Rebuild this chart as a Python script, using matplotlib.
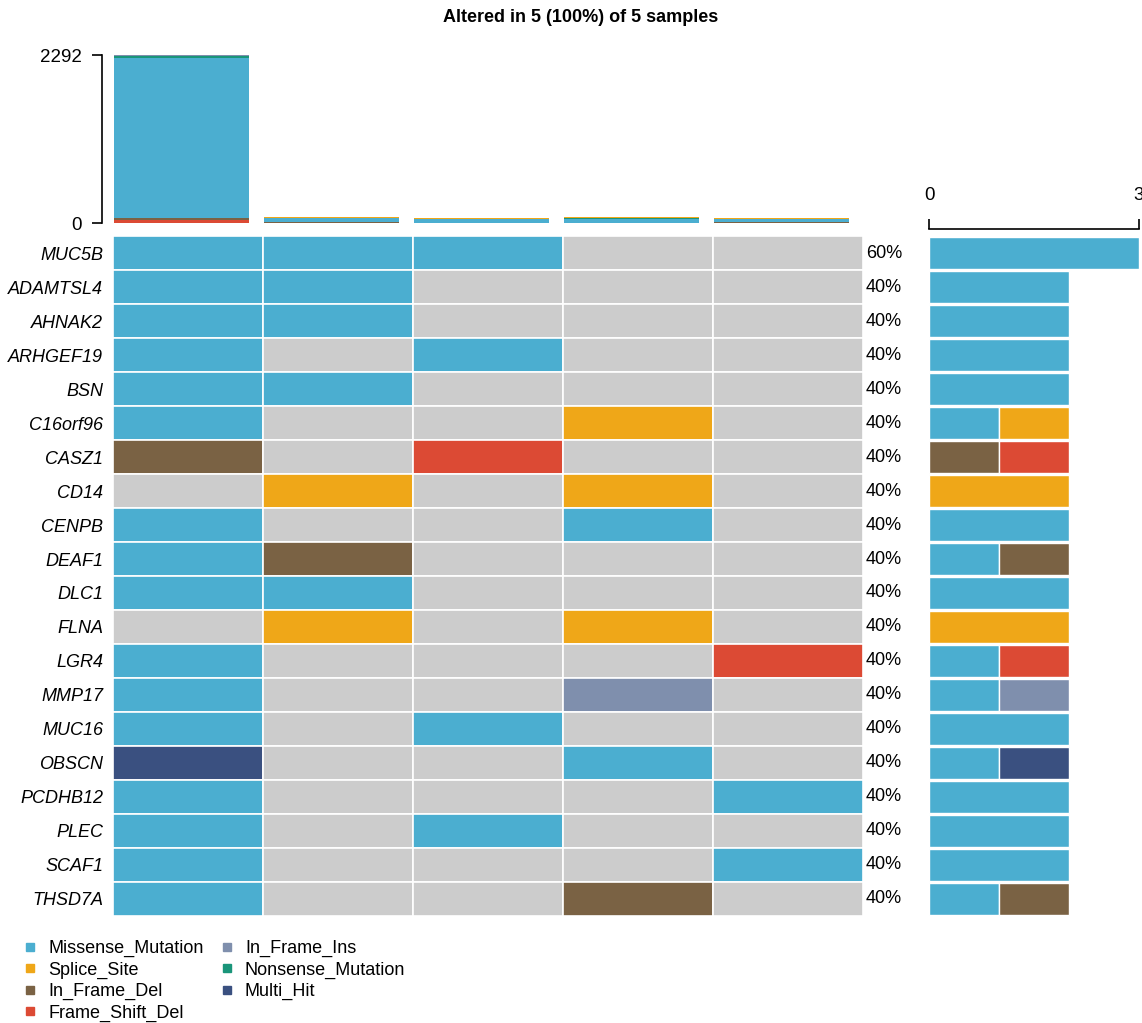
import numpy as np
import matplotlib.pyplot as plt
from matplotlib.lines import Line2D

plt.rcParams['font.family'] = ['Liberation Sans', 'DejaVu Sans']

genes = ['MUC5B', 'ADAMTSL4', 'AHNAK2', 'ARHGEF19', 'BSN', 'C16orf96', 'CASZ1',
         'CD14', 'CENPB', 'DEAF1', 'DLC1', 'FLNA', 'LGR4', 'MMP17', 'MUC16',
         'OBSCN', 'PCDHB12', 'PLEC', 'SCAF1', 'THSD7A']
samples = ['S1', 'S2', 'S3', 'S4', 'S5']

vc_types = ['Missense_Mutation', 'Splice_Site', 'In_Frame_Del', 'Frame_Shift_Del',
            'In_Frame_Ins', 'Nonsense_Mutation', 'Multi_Hit']
vc_colors = ['#4BAED0', '#EFA718', '#7A6244', '#DC4A34',
             '#7F8FAD', '#1A957A', '#3A5080']
empty_color = '#CCCCCC'

# M=Missense S=Splice D=In_Frame_Del F=Frame_Shift_Del I=In_Frame_Ins N=Nonsense H=Multi_Hit
codes = {'M': 0, 'S': 1, 'D': 2, 'F': 3, 'I': 4, 'N': 5, 'H': 6}
oncomatrix = [
    'MMM--',
    'MM---',
    'MM---',
    'M-M--',
    'MM---',
    'M--S-',
    'D-F--',
    '-S-S-',
    'M--M-',
    'MD---',
    'MM---',
    '-S-S-',
    'M---F',
    'M--I-',
    'M-M--',
    'H--M-',
    'M---M',
    'M-M--',
    'M---M',
    'M--D-',
]

# mutation burden per sample (bars on top), per variant class
tmb = {
    'Frame_Shift_Del':   [40, 4, 0, 6, 4],
    'In_Frame_Del':      [35, 12, 4, 0, 10],
    'Missense_Mutation': [2180, 46, 48, 54, 42],
    'Nonsense_Mutation': [20, 10, 6, 6, 0],
    'Splice_Site':       [12, 10, 4, 12, 6],
    'In_Frame_Ins':      [5, 0, 0, 4, 0],
    'Multi_Hit':         [0, 0, 0, 0, 0],
}
tmb_max = 2292
title = 'Altered in 5 (100%) of 5 samples'

fig = plt.figure(figsize=(11.42, 10.23), dpi=100)
fig.text(0.508, 1 - 18 / 1023, title, ha='center', va='center',
         fontsize=13, fontweight='bold')

# main grid
ax = fig.add_axes([0.0989, 0.1046, 0.6567, 0.6647])
n_g = len(genes)
n_s = len(samples)
for gi, row in enumerate(oncomatrix):
    for si, ch in enumerate(row):
        col = empty_color if ch == '-' else vc_colors[codes[ch]]
        ax.bar(si, 1, bottom=gi, width=1, align='edge', color=col,
               edgecolor='white', linewidth=1.2)
    n_alt = sum(c != '-' for c in row)
    ax.text(n_s + 0.02, gi + 0.5, f'{round(100 * n_alt / n_s)}%',
            ha='left', va='center', fontsize=13)
ax.set_xlim(0, n_s)
ax.set_ylim(n_g, 0)
ax.set_yticks(np.arange(n_g) + 0.5)
ax.set_yticklabels(genes, fontstyle='italic', fontsize=13)
ax.tick_params(axis='y', length=0, pad=7)
ax.set_xticks([])
for s in ax.spines.values():
    s.set_visible(False)

# top bars
axt = fig.add_axes([0.0989, 0.7820, 0.6567, 0.1640])
bottom = np.zeros(n_s)
stack_order = ['Frame_Shift_Del', 'In_Frame_Del', 'Missense_Mutation',
               'Nonsense_Mutation', 'Splice_Site', 'In_Frame_Ins', 'Multi_Hit']
for vc in stack_order:
    vals = np.array(tmb[vc])
    axt.bar(np.arange(n_s) + 0.005, vals, bottom=bottom, width=0.905, align='edge',
            color=vc_colors[vc_types.index(vc)], linewidth=0)
    bottom += vals
axt.set_xlim(0, n_s)
axt.set_ylim(0, tmb_max)
axt.set_yticks([0, tmb_max])
axt.tick_params(axis='y', labelsize=13.5, length=7.2, width=1.2, pad=7)
axt.set_xticks([])
for k in ['top', 'right', 'bottom']:
    axt.spines[k].set_visible(False)
axt.spines['left'].set_position(('outward', 8))
axt.spines['left'].set_linewidth(1.2)

# right side bars: count per gene by variant class
axr = fig.add_axes([0.8135, 0.1046, 0.1839, 0.6647])
for gi, row in enumerate(oncomatrix):
    left = 0
    for ti in range(len(vc_types)):
        cnt = sum(codes[c] == ti for c in row if c != '-')
        if cnt:
            axr.barh(gi + 0.5, cnt, left=left, height=0.92, color=vc_colors[ti],
                     edgecolor='white', linewidth=1)
            left += cnt
axr.set_xlim(0, 3)
axr.set_ylim(n_g, 0)
axr.set_yticks([])
axr.set_xticks([0, 3])
axr.xaxis.tick_top()
axr.tick_params(axis='x', labelsize=13.5, length=7.2, width=1.2, pad=11)
for k in ['left', 'right', 'bottom']:
    axr.spines[k].set_visible(False)
axr.spines['top'].set_position(('outward', 5))
axr.spines['top'].set_linewidth(1.2)

handles = [Line2D([], [], marker='s', linestyle='none', markersize=6,
                  color=c) for c in vc_colors]
fig.legend(handles, vc_types, loc='upper left', bbox_to_anchor=(0.0184, 0.081),
           ncol=2, frameon=False, fontsize=13, handletextpad=0.5,
           labelspacing=0.24, columnspacing=0.8, handlelength=1.0,
           borderaxespad=0, borderpad=0)

fig.savefig('out.png', dpi=100)
